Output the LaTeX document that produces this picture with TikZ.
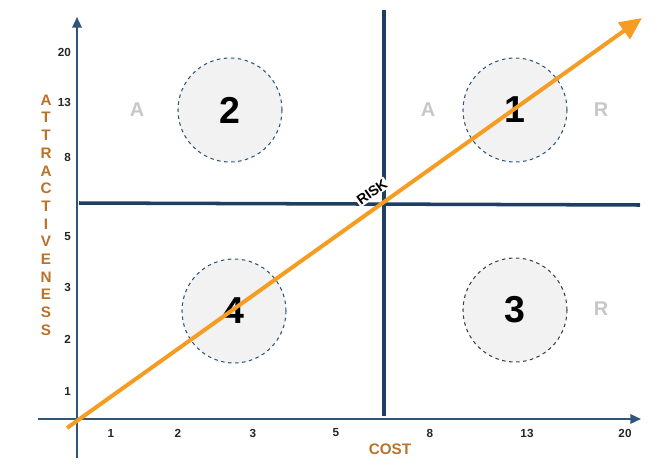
\documentclass[tikz,border=0pt]{standalone}
\usepackage{fontspec}
\setmainfont{Liberation Sans}
\usetikzlibrary{arrows.meta}
\definecolor{navy}{HTML}{1E3F62}
\definecolor{axisblue}{HTML}{2F5579}
\definecolor{riskorange}{HTML}{F59D22}
\definecolor{labelbrown}{HTML}{BA7128}
\definecolor{zonegray}{HTML}{F2F2F2}

\begin{document}
\begin{tikzpicture}[x=0.03cm, y=-0.03cm, font=\bfseries,
  axis/.style={draw=axisblue, line width=1.6pt, -{Triangle[length=9pt, width=8pt]}},
  divider/.style={draw=navy, line width=3pt},
  zone/.style={circle, draw=axisblue, dashed, line width=0.9pt, fill=zonegray, minimum size=3.12cm, font=\fontsize{32}{32}\selectfont\bfseries},
  tick/.style={font=\fontsize{10}{11}\selectfont\bfseries, text=black!85},
  side/.style={font=\fontsize{17}{17}\selectfont\bfseries, text=black!22},
  title/.style={font=\fontsize{13}{13}\selectfont\bfseries, text=labelbrown}]
\useasboundingbox (0,0) rectangle (660,466);
% axes
\coordinate (xs) at (38,419);
\coordinate (xe) at (641,419);
\coordinate (ys) at (77,458);
\coordinate (ye) at (77,17);
\draw[axis] (xs) -- (xe);
\draw[axis] (ys) -- (ye);
% quadrant lines
\coordinate (vt) at (384,10);
\coordinate (vb) at (384,416);
\coordinate (hl) at (79,203);
\coordinate (hr) at (640,205);
\draw[divider] (vt) -- (vb);
\draw[divider] (hl) -- (hr);
% zones
\node[zone] (q2) at (230,110) {2};
\node[zone] (q1) at (515,110) {1};
\node[zone] (q4) at (234,311) {4};
\node[zone, draw=black!75] (q3) at (515,310) {3};
\node[side] (a2) at (137,110) {A};
\node[side] (a1) at (428,110) {A};
\node[side] (r1) at (601,110) {R};
\node[side] (r3) at (601,309) {R};
% ticks
\foreach \val/\pos in {1/111, 2/178, 3/253, 5/336, 8/430, 13/527, 20/625}
  \node[tick] (tx\val) at (\pos,433) {\val};
\foreach \val/\pos in {20/52, 13/102, 8/157, 5/237, 3/287, 2/339, 1/391}
  \node[tick, anchor=east] (ty\val) at (75,\pos) {\val};
\node[title] (cost) at (390,449) {COST};
\foreach \ch [count=\i] in {A,T,T,R,A,C,T,I,V,E,N,E,S,S}
  \node[title] (at\i) at (46,{100+17.7*(\i-1)}) {\ch};
% risk arrow
\coordinate (rs) at (67,428);
\coordinate (re) at (642,18);
\draw[draw=riskorange, line width=3.4pt, -{Triangle[length=19pt, width=17pt]}] (rs) -- (re);
\node[fill=white, inner sep=1pt, rotate=35.5, font=\fontsize{12}{12}\selectfont\bfseries] (risk) at (372,192) {RISK};
\end{tikzpicture}
\end{document}
